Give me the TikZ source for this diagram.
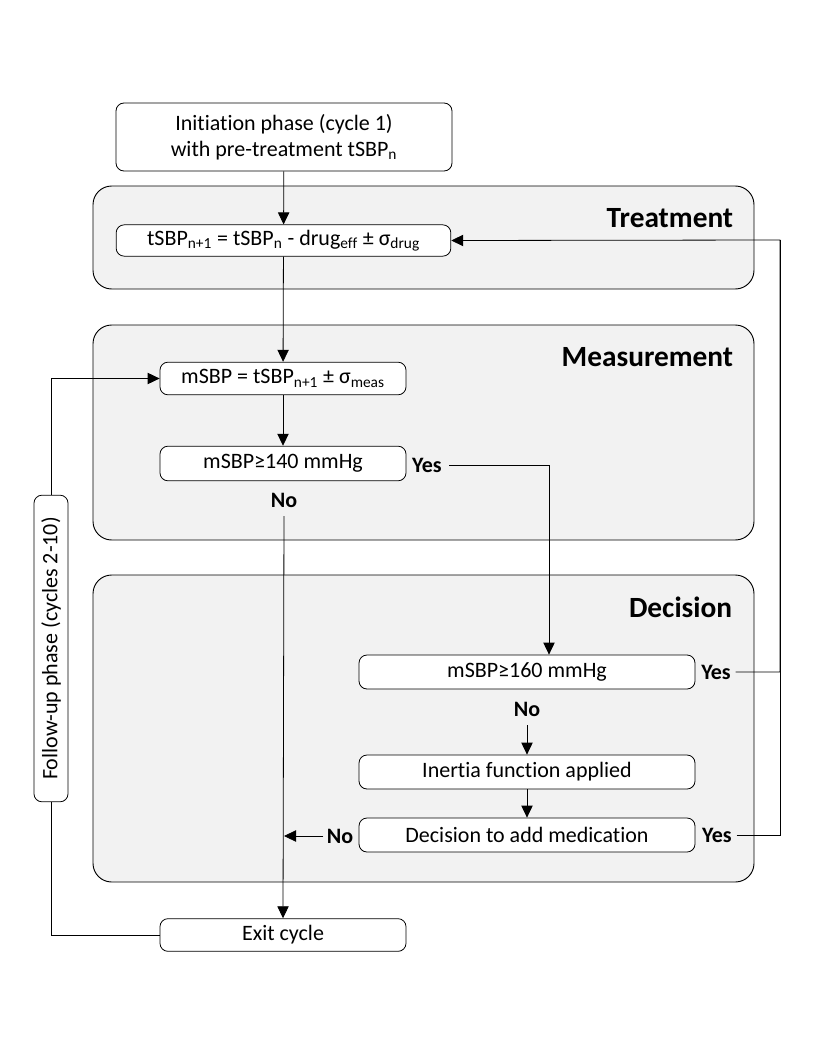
\documentclass[tikz,border=0pt]{standalone}
\usepackage{fontspec}
\setmainfont{Carlito}[Ligatures=CommonOff]
\usetikzlibrary{arrows.meta}
\definecolor{panelgray}{RGB}{242,242,242}
\tikzset{
  panel/.style={draw, fill=panelgray, rounded corners=14pt, line width=0.7pt},
  stepbox/.style={draw, fill=white, rounded corners=6pt, align=center, inner sep=0pt, line width=0.6pt, font=\fontsize{16.5}{19.5}\selectfont},
  lab/.style={font=\bfseries\fontsize{16.5}{19}\selectfont},
  ttl/.style={font=\bfseries\fontsize{22}{24}\selectfont, anchor=east},
  arr/.style={-{Triangle[length=9pt,width=8.5pt]}},
}
\begin{document}
\begin{tikzpicture}[x=0.75pt,y=0.75pt,yscale=-1,xscale=1,line width=0.6pt]
\useasboundingbox (0,0) rectangle (816,1056);

%Panels
\draw [panel] (93,186) rectangle (754,289) ;
\draw [panel] (93,325) rectangle (754,540) ;
\draw [panel] (93,575) rectangle (754,882) ;
\node [ttl] (tTreat) at (738,218) {Treatment};
\node [ttl] (tMeas) at (738,357) {Measurement};
\node [ttl] (tDec) at (737,607) {Decision};

%Boxes
\node [stepbox, minimum width=252pt, minimum height=51pt] (init) at (284,137) {Initiation phase (cycle 1)\\with pre-treatment tSBP\textsubscript{n}};
\node [stepbox, minimum width=251pt, minimum height=23.5pt] (tsbp) at (283.5,240.5) {tSBP\textsubscript{n+1} = tSBP\textsubscript{n} - drug\textsubscript{eff} ± σ\textsubscript{drug}};
\node [stepbox, minimum width=184.5pt, minimum height=24.5pt] (msbp) at (283,378.5) {mSBP = tSBP\textsubscript{n+1} ± σ\textsubscript{meas}};
\node [stepbox, minimum width=184.5pt, minimum height=26pt] (m140) at (283,463.5) {mSBP≥140 mmHg};
\node [stepbox, minimum width=252pt, minimum height=25.5pt] (m160) at (527,672) {mSBP≥160 mmHg};
\node [stepbox, minimum width=252pt, minimum height=25.5pt] (inertia) at (527,772) {Inertia function applied};
\node [stepbox, minimum width=252pt, minimum height=25.5pt] (decide) at (527,835) {Decision to add medication};
\node [stepbox, minimum width=184.5pt, minimum height=24.5pt] (exit) at (283,935) {Exit cycle};
\node [stepbox, rotate=90, minimum width=230pt, minimum height=25.5pt] (fup) at (51,648.5) {Follow-up phase (cycles 2-10)};

%Yes / No labels
\node [lab] (yes1) at (427,465) {Yes};
\node [lab] (no1) at (284,500) {No};
\node [lab] (yes2) at (716,672) {Yes};
\node [lab] (no2) at (527,709) {No};
\node [lab] (yes3) at (717,835) {Yes};
\node [lab] (no3) at (340,836) {No};
\coordinate (bend1) at (549,465);
\coordinate (rt) at (780,240);

%Connectors
\draw [arr] (init) -- (tsbp) ;
\draw [arr] (tsbp) -- (msbp) ;
\draw [arr] (msbp) -- (m140) ;
\draw [arr, shorten <=2pt] (yes1.east) -- (bend1) -- (bend1 |- m160.north) ;
\draw [arr, shorten <=3pt] (no1.south) -- (exit.north) ;
\draw [arr, shorten <=3pt] (no2.south) -- (inertia.north) ;
\draw [arr] (inertia) -- (decide) ;
\draw [arr, shorten <=-1pt] (no3.west) -- (no3 -| no1) ;
\draw [arr] (yes2.east) -| (rt) -- (tsbp.east) ;
\draw (yes3.east) -| (rt) ;
\draw [arr] (fup.east) |- (msbp.west) ;
\draw (fup.west) |- (exit.west) ;

\end{tikzpicture}
\end{document}
